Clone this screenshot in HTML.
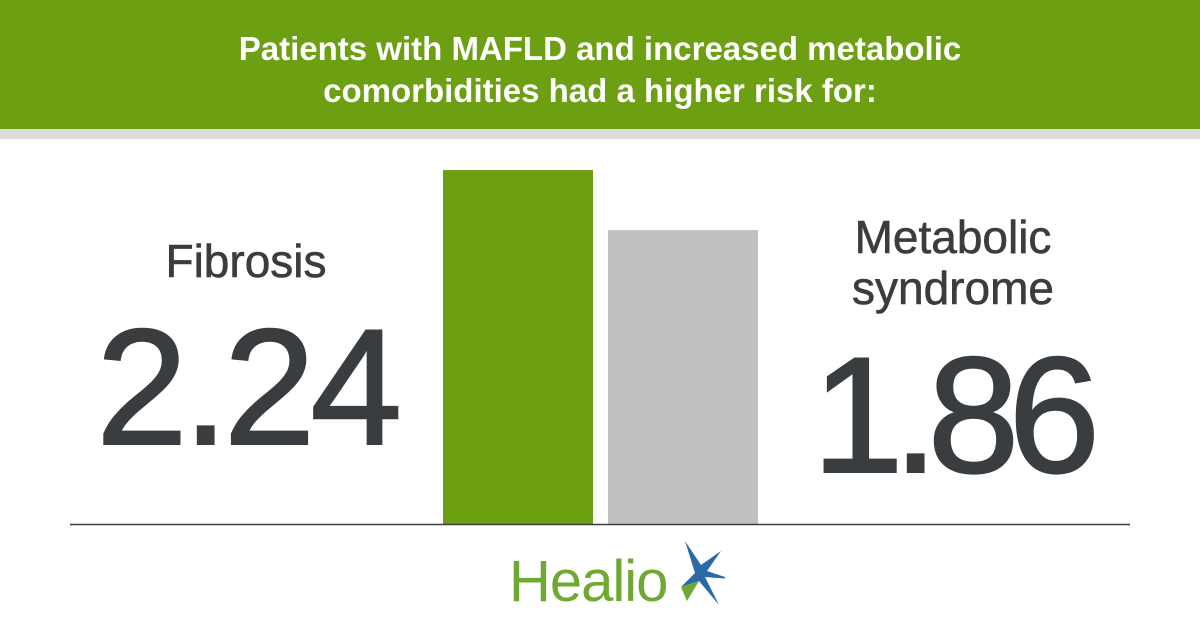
<!DOCTYPE html>
<html><head><meta charset="utf-8"><style>
body{margin:0;width:1200px;height:630px;overflow:hidden;background:#fff;font-family:"Liberation Sans",sans-serif;position:relative}
.abs{position:absolute}
#hdr{left:0;top:0;width:1200px;height:129px;background:#6c9f11}
#strip{left:0;top:129px;width:1200px;height:10px;background:#dcdcdc}
#title{left:0;top:28px;width:1200px;text-align:center;color:#fff;font-weight:bold;font-size:33px;line-height:42px}
.lbl{color:#3a3d3f;font-size:46px;text-align:center;line-height:51px;-webkit-text-stroke:0.6px #3a3d3f}
.big{color:#3a3d3f;font-size:165px;letter-spacing:-5px;line-height:1;-webkit-text-stroke:2px #3a3d3f}
</style></head><body>
<div id="hdr" class="abs"></div>
<div id="strip" class="abs"></div>
<div id="title" class="abs">Patients with MAFLD and increased metabolic<br>comorbidities had a higher risk for:</div>
<div class="abs lbl" style="left:96px;top:236px;width:300px">Fibrosis</div>
<div class="abs big" style="left:96px;top:305px">2.24</div>
<div class="abs lbl" style="left:803px;top:212px;width:300px">Metabolic<br>syndrome</div>
<div class="abs big" style="left:812px;top:333px;letter-spacing:-11px">1.86</div>
<svg id="chart" class="abs" style="left:0;top:0" width="1200" height="630">
<line x1="70" y1="524.5" x2="1130" y2="524.5" stroke="#3a3d3f" stroke-width="1.5"/>
</svg>
<svg class="abs" style="left:505px;top:535px" width="220" height="75">
<text x="4" y="66" font-family="Liberation Sans,sans-serif" font-size="58" fill="#6fa832" letter-spacing="-1">Healio</text>
<polygon points="180,6 196,30 216,16 202,36 226,44 200,42 214,70 194,46 176,52 190,38" fill="#2a6aa6"/>
<polygon points="194,46 176,52 182,66" fill="#6fa832"/>
</svg>
<script>
const categories=["Fibrosis","Metabolic syndrome"];
const values=[2.24,1.86];
const colors=["#6c9f11","#c0c0c0"];
const svg=document.getElementById('chart');
const base=524,perUnit=158,x0=443,bw=150,gap=15;
function y(v){return base-v*perUnit;}
values.forEach((v,i)=>{
 const r=document.createElementNS('http://www.w3.org/2000/svg','rect');
 r.setAttribute('x',x0+i*(bw+gap));
 r.setAttribute('y',y(v));
 r.setAttribute('width',bw);
 r.setAttribute('height',base-y(v));
 r.setAttribute('fill',colors[i]);
 
 
 svg.insertBefore(r,svg.firstChild);
});
</script>
</body></html>
